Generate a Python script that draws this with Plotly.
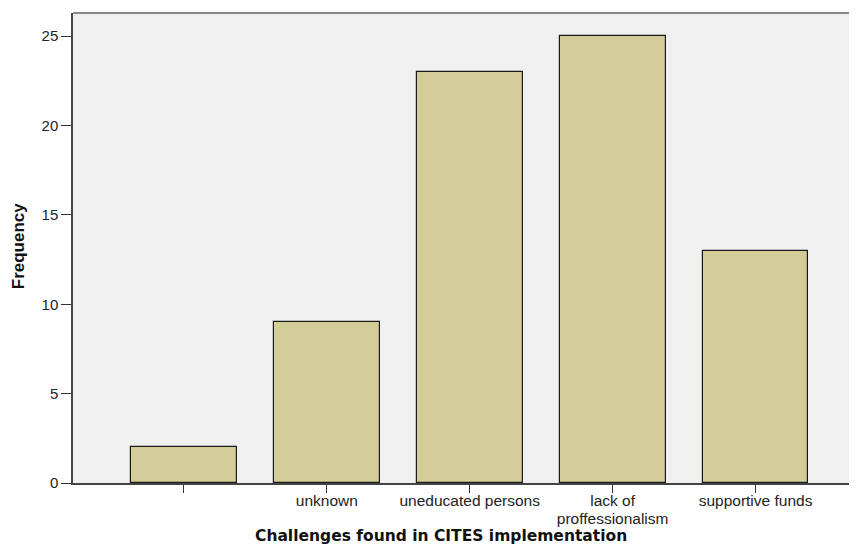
import plotly.graph_objects as go

categories = ["", "unknown", "uneducated persons", "lack of<br>proffessionalism", "supportive funds"]
frequency = [2, 9, 23, 25, 13]
y_ticks = [0, 5, 10, 15, 20, 25]

x_pos = list(range(len(categories)))
# larger glyphs with slightly tighter line spacing (line spacing follows base tick font size)
tick_text = ["<br>".join(f"<span style='font-size:15.5px'>{part}</span>" if part else ""
                         for part in c.split("<br>")) for c in categories]

fig = go.Figure()
fig.add_trace(go.Bar(
    x=x_pos, y=frequency, width=0.74,
    marker=dict(color="#D3CE97", line=dict(color="#1a1a1a", width=1.2)),
    hoverinfo="skip",
))

fig.update_layout(
    width=849, height=540,
    margin=dict(l=65, r=0, t=5, b=65),
    paper_bgcolor="white", plot_bgcolor="#F0F0F0",
    showlegend=False,
    font=dict(family="Liberation Sans, Arial, sans-serif", size=14, color="#222"),
    bargap=0,
)
fig.update_xaxes(
    range=[-0.776, 4.71], tickmode="array", tickvals=x_pos, ticktext=tick_text,
    ticks="outside", ticklen=8, tickwidth=1.3, tickcolor="#333",
    showline=True, linecolor="#444", linewidth=1.5,
    showgrid=False, zeroline=False, tickangle=0,
    ticklabelstandoff=-3,
    tickfont=dict(size=13.5, color="#222"),
)
fig.update_yaxes(
    range=[0, 26.3], tickmode="array", tickvals=y_ticks,
    ticks="outside", ticklen=10, tickwidth=1.3, tickcolor="#333",
    showline=True, linecolor="#444", linewidth=1.5,
    showgrid=False, zeroline=False,
    tickfont=dict(size=15, color="#222"),
)
fig.add_shape(type="line", xref="paper", yref="paper", x0=0, x1=1, y0=1, y1=1,
              line=dict(color="#888", width=2))
fig.add_annotation(text="<b>Frequency</b>", xref="paper", yref="paper",
                   x=-0.070, y=0.504, textangle=-90, showarrow=False,
                   font=dict(family="Liberation Sans Narrow, Arial Narrow, Liberation Sans, sans-serif", size=17, color="#111"),
                   xanchor="center", yanchor="middle")
fig.add_annotation(text="<b>Challenges found in CITES implementation</b>", xref="paper", yref="paper",
                   x=0.469, y=-0.113, showarrow=False,
                   font=dict(family="DejaVu Sans, Verdana, sans-serif", size=15.5, color="#111"),
                   xanchor="center", yanchor="middle")

fig.write_html("out.html")
